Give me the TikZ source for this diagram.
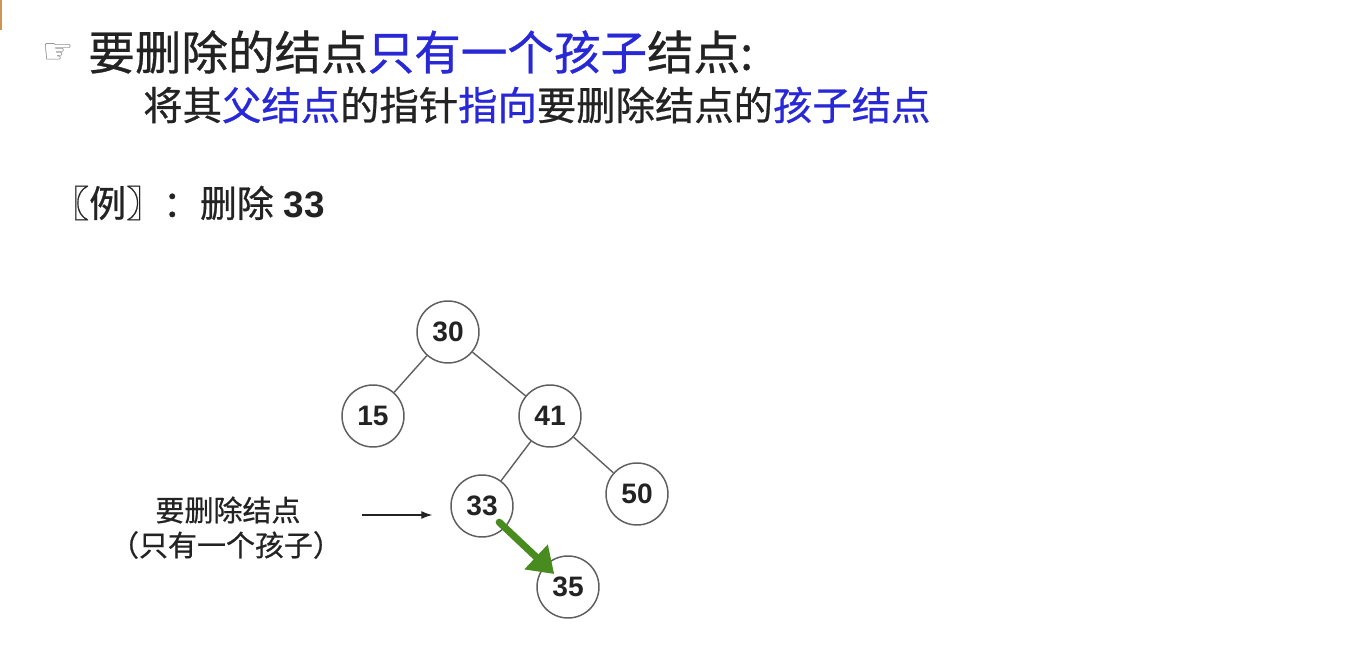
\documentclass[tikz,border=0pt]{standalone}
\usepackage{fontspec}
\setmainfont{Liberation Sans}
\newfontfamily\cjk[FakeBold=0.7]{Noto Sans CJK SC}
\newfontfamily\symb{DejaVu Sans}
\usetikzlibrary{arrows.meta,calc}
\definecolor{hlblue}{RGB}{40,40,215}
\definecolor{txtgray}{RGB}{35,35,35}
\definecolor{ptrgreen}{RGB}{72,140,32}
\definecolor{edgegray}{RGB}{95,95,95}
\definecolor{slideorange}{RGB}{205,150,80}
\tikzset{
	keynode/.style={circle, draw=edgegray, line width=0.85pt, minimum size=1.24cm, inner sep=0pt, font=\fontsize{16pt}{18pt}\selectfont\bfseries, text=txtgray},
	treeedge/.style={draw=edgegray, line width=0.8pt},
	ptr/.style={-{Latex[length=2.2mm,width=1.6mm]}, line width=0.6pt, txtgray}
}
\begin{document}
\begin{tikzpicture}[x=0.02cm, y=-0.02cm]
				\useasboundingbox (0,0) rectangle (1349,651);
				\draw[slideorange, line width=1.2pt] (1,0) -- (1,30);
				\node[anchor=center, text=gray, font=\symb\fontsize{20pt}{22pt}\selectfont] (hand) at (58,54) {☞};
				\node[anchor=west, inner sep=0pt, text=txtgray, font=\cjk\fontsize{26.5pt}{30pt}\selectfont] (title) at (88,52) {要删除的结点\textcolor{hlblue}{只有一个孩子}结点:};
				\node[anchor=west, inner sep=0pt, text=txtgray, font=\cjk\fontsize{22.4pt}{26pt}\selectfont] (rule) at (143,105) {将其\textcolor{hlblue}{父结点}的指针\textcolor{hlblue}{指向}要删除结点的\textcolor{hlblue}{孩子结点}};
				\node[anchor=west, inner sep=0pt, text=txtgray, font=\fontsize{21pt}{24pt}\selectfont] (ex) at (52,203) {{\cjk 〖例〗：删除} \textbf{33}};
				\node[keynode] (n30) at (448,332) {30};
				\node[keynode] (n15) at (373,416) {15};
				\node[keynode] (n41) at (550,416) {41};
				\node[keynode] (n33) at (482,506) {33};
				\node[keynode] (n50) at (637,494) {50};
				\node[keynode] (n35) at (568,587) {35};
				\draw[treeedge] (n30) -- (n15);
				\draw[treeedge] (n30) -- (n41);
				\draw[treeedge] (n41) -- (n33);
				\draw[treeedge] (n41) -- (n50);
				\node[inner sep=0pt, text=txtgray, font=\cjk\fontsize{16.5pt}{20pt}\selectfont] (dellbl) at (228,510) {要删除结点};
				\node[inner sep=0pt, text=txtgray, font=\cjk\fontsize{16.5pt}{20pt}\selectfont] (dellbl2) at (226,545) {（只有一个孩子）};
				\coordinate (arrS) at (362,515);
				\draw[ptr, shorten >=0.36cm] (arrS) -- (arrS -| n33.west);
				\draw[ptrgreen, line width=4pt, line cap=round, -{Triangle[length=5mm,width=6.5mm]}] ($(n33)!0.2!(n35)$) -- ($(n33)!0.84!(n35)$);
			\end{tikzpicture}
\end{document}
